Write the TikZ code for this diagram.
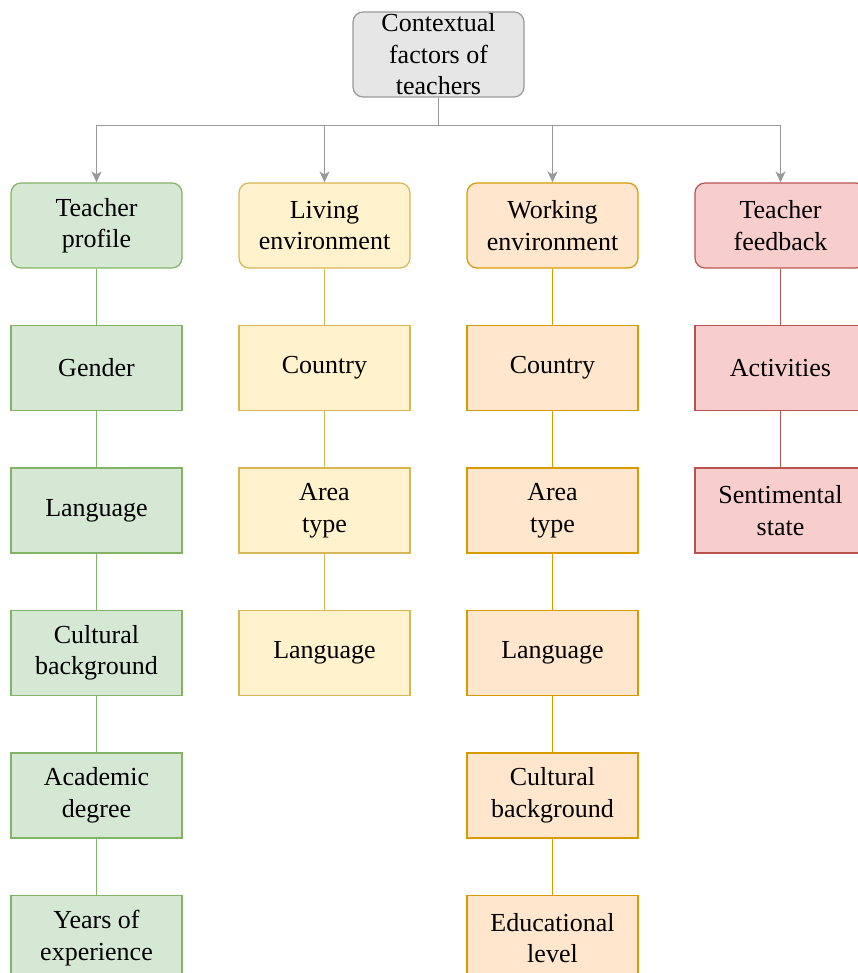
\documentclass[tikz,border=0pt]{standalone}
\usepackage{fontspec}
\setmainfont{Liberation Serif}
\usetikzlibrary{arrows.meta}
\definecolor{gfill}{HTML}{D5E8D4}\definecolor{gline}{HTML}{82B366}
\definecolor{yfill}{HTML}{FFF2CC}\definecolor{yline}{HTML}{D6B656}
\definecolor{ofill}{HTML}{FFE6CC}\definecolor{oline}{HTML}{D79B00}
\definecolor{rfill}{HTML}{F8CECC}\definecolor{rline}{HTML}{B85450}
\definecolor{kfill}{HTML}{E6E6E6}\definecolor{kline}{HTML}{999999}
\begin{document}
\begin{tikzpicture}[x=1pt,y=-1pt,
  every node/.style={font=\fontsize{26}{31.5}\selectfont, align=center, inner sep=0pt,
    minimum width=171pt, minimum height=85pt, line width=1.2pt},
  rbox/.style={draw, rounded corners=10pt},
  sbox/.style={draw},
  gbox/.style={fill=gfill, draw=gline},
  ybox/.style={fill=yfill, draw=yline},
  obox/.style={fill=ofill, draw=oline},
  redbox/.style={fill=rfill, draw=rline},
  arr/.style={draw=kline, line width=1.3pt, -{Stealth[length=11pt,width=10pt,inset=3pt]}},
  lnk/.style={line width=1.3pt}]
\useasboundingbox (0,0) rectangle (857,973);
\node[rbox, fill=kfill, draw=kline] (root) at (438.5,54.5) {Contextual\\factors of\\teachers};
% column 1
\node[rbox,gbox] (tp) at (96.5,225.5) {Teacher\\profile};
\node[sbox,gbox] (g1) at (96.5,368) {Gender};
\node[sbox,gbox] (g2) at (96.5,510.5) {Language};
\node[sbox,gbox] (g3) at (96.5,653) {Cultural\\background};
\node[sbox,gbox] (g4) at (96.5,795.5) {Academic\\degree};
\node[sbox,gbox] (g5) at (96.5,938) {Years of\\experience};
% column 2
\node[rbox,ybox] (le) at (324.5,225.5) {Living\\environment};
\node[sbox,ybox] (y1) at (324.5,368) {Country};
\node[sbox,ybox] (y2) at (324.5,510.5) {Area\\type};
\node[sbox,ybox] (y3) at (324.5,653) {Language};
% column 3
\node[rbox,obox] (we) at (552.5,225.5) {Working\\environment};
\node[sbox,obox] (o1) at (552.5,368) {Country};
\node[sbox,obox] (o2) at (552.5,510.5) {Area\\type};
\node[sbox,obox] (o3) at (552.5,653) {Language};
\node[sbox,obox] (o4) at (552.5,795.5) {Cultural\\background};
\node[sbox,obox] (o5) at (552.5,938) {Educational\\level};
% column 4
\node[rbox,redbox] (tf) at (780.5,225.5) {Teacher\\feedback};
\node[sbox,redbox] (r1) at (780.5,368) {Activities};
\node[sbox,redbox] (r2) at (780.5,510.5) {Sentimental\\state};
% arrows from root
\foreach \t in {tp,le,we,tf}
  \draw[arr] (root.south) -- ++(0,28) -| (\t.north);
% column links
\draw[lnk,draw=gline] (tp) -- (g1) (g1) -- (g2) (g2) -- (g3) (g3) -- (g4) (g4) -- (g5);
\draw[lnk,draw=yline] (le) -- (y1) (y1) -- (y2) (y2) -- (y3);
\draw[lnk,draw=oline] (we) -- (o1) (o1) -- (o2) (o2) -- (o3) (o3) -- (o4) (o4) -- (o5);
\draw[lnk,draw=rline] (tf) -- (r1) (r1) -- (r2);
\end{tikzpicture}
\end{document}
